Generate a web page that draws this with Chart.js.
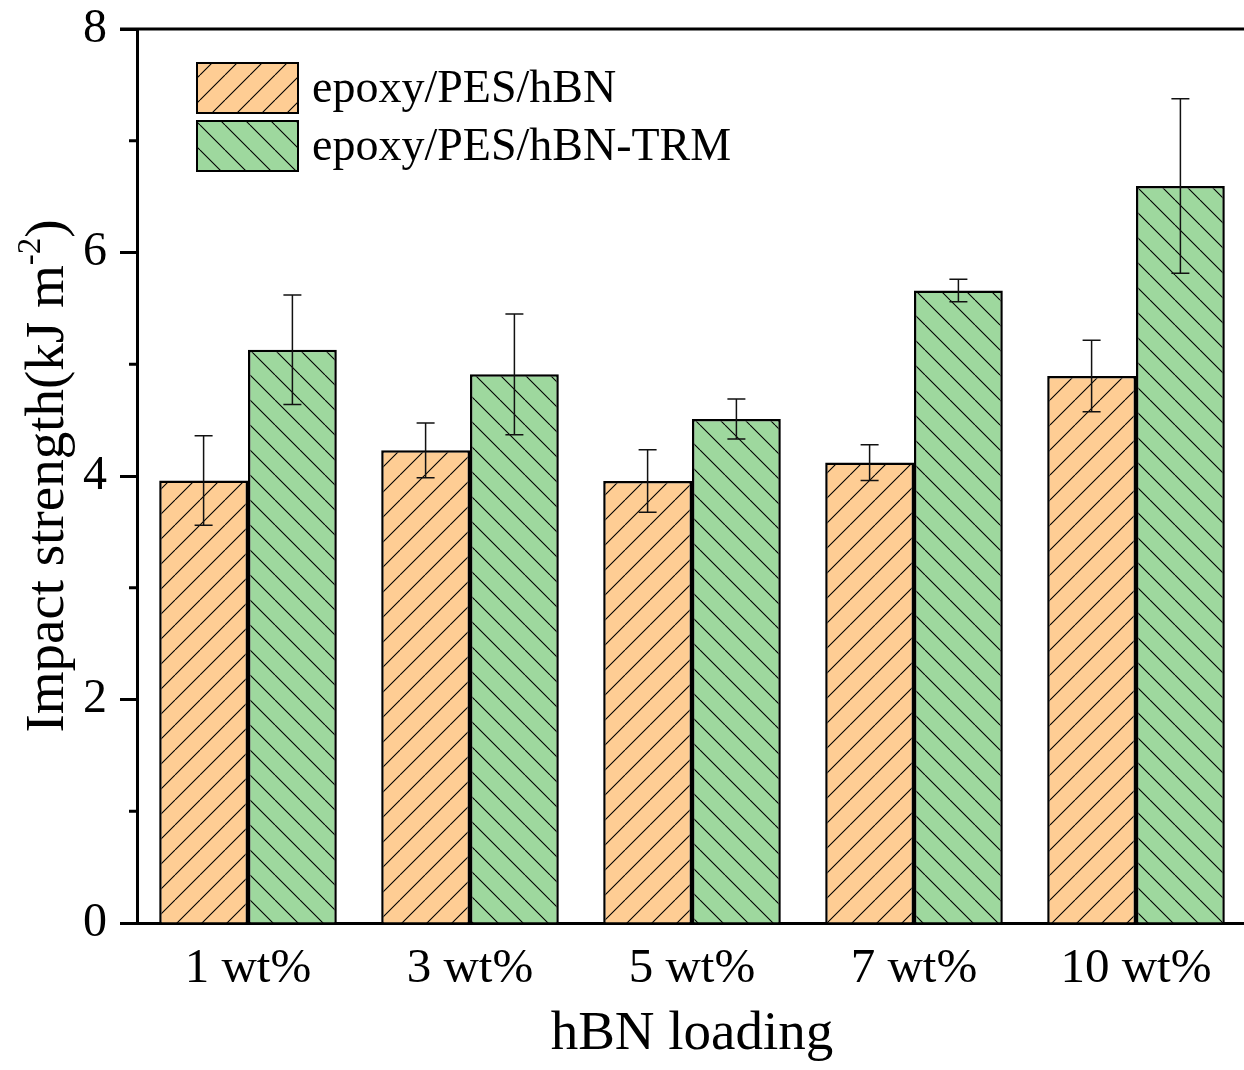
<!DOCTYPE html>
<html>
<head>
<meta charset="utf-8">
<style>
  html, body { margin: 0; padding: 0; background: #fff; overflow: hidden; }
  #wrap { width: 1247px; height: 1070px; }
</style>
<script src="https://cdn.jsdelivr.net/npm/chart.js@4/dist/chart.umd.min.js"></script>
</head>
<body>
<div id="wrap"><canvas id="impactChart" width="1247" height="1070"></canvas></div>
<script>
const loadings = ['1 wt%', '3 wt%', '5 wt%', '7 wt%', '10 wt%'];
const hbnValues = [3.96, 4.23, 3.955, 4.12, 4.895];
const hbnErrors = [0.40, 0.245, 0.28, 0.16, 0.32];
const trmValues = [5.13, 4.91, 4.51, 5.66, 6.595];
const trmErrors = [0.49, 0.54, 0.18, 0.10, 0.78];
const seriesNames = ['epoxy/PES/hBN', 'epoxy/PES/hBN-TRM'];
const minorTicks = [1, 3, 5, 7];

const FONT = "'Liberation Serif', 'Times New Roman', serif";
const orange = 'rgb(254, 205, 148)';
const green = 'rgb(158, 216, 158)';

// hatch fill: "/" for one series, "\" for the other
function hatch(color, forward) {
    const size = 25;
    const c = document.createElement('canvas');
    c.width = size;
    c.height = size;
    const g = c.getContext('2d');
    g.fillStyle = color;
    g.fillRect(0, 0, size, size);
    g.strokeStyle = '#000';
    g.lineWidth = 1.1;
    g.beginPath();
    for (const k of [-size, 0, size]) {
        if (forward) {
            g.moveTo(k, size);
            g.lineTo(k + size, 0);
        } else {
            g.moveTo(k, 0);
            g.lineTo(k + size, size);
        }
    }
    g.stroke();
    return g.createPattern(c, 'repeat');
}

const ctx = document.getElementById('impactChart').getContext('2d');
const hbnFill = hatch(orange, true);
const trmFill = hatch(green, false);

const errorBars = {
    id: 'errorBars',
    afterDatasetsDraw(chart) {
        const c = chart.ctx;
        const y = chart.scales.y;
        const errs = [hbnErrors, trmErrors];
        c.save();
        c.strokeStyle = '#111';
        c.lineWidth = 1.5;
        chart.data.datasets.forEach((ds, i) => {
            chart.getDatasetMeta(i).data.forEach((bar, j) => {
                const v = ds.data[j];
                const top = y.getPixelForValue(v + errs[i][j]);
                const bot = y.getPixelForValue(v - errs[i][j]);
                c.beginPath();
                c.moveTo(bar.x, top);
                c.lineTo(bar.x, bot);
                c.moveTo(bar.x - 9, top);
                c.lineTo(bar.x + 9, top);
                c.moveTo(bar.x - 9, bot);
                c.lineTo(bar.x + 9, bot);
                c.stroke();
            });
        });
        c.restore();
    }
};

const frame = {
    id: 'frame',
    afterDraw(chart) {
        const c = chart.ctx;
        const area = chart.chartArea;
        const y = chart.scales.y;
        c.save();
        c.strokeStyle = '#000';
        c.lineWidth = 3;
        // top border
        c.beginPath();
        c.moveTo(area.left - 17, area.top);
        c.lineTo(chart.width, area.top);
        c.stroke();
        // minor ticks
        minorTicks.forEach(v => {
            const py = y.getPixelForValue(v);
            c.beginPath();
            c.moveTo(area.left - 8, py);
            c.lineTo(area.left, py);
            c.stroke();
        });

        // legend
        const fills = [hbnFill, trmFill];
        c.font = '46px ' + FONT;
        c.textBaseline = 'middle';
        c.lineWidth = 2;
        seriesNames.forEach((name, i) => {
            const by = 63 + i * 58;
            c.fillStyle = fills[i];
            c.fillRect(197, by, 101, 50);
            c.strokeRect(197, by, 101, 50);
            c.fillStyle = '#000';
            c.fillText(name, 312, by + 27);
        });

        // y axis title with superscript
        const main = 'Impact strength(kJ m';
        const sup = '-2';
        const close = ')';
        c.translate(63, 476);
        c.rotate(-Math.PI / 2);
        c.textBaseline = 'alphabetic';
        c.font = '55px ' + FONT;
        const w1 = c.measureText(main).width;
        const w3 = c.measureText(close).width;
        c.font = '33px ' + FONT;
        const w2 = c.measureText(sup).width;
        let x = -(w1 + w2 + w3) / 2;
        c.font = '55px ' + FONT;
        c.fillText(main, x, 0);
        x += w1;
        c.font = '33px ' + FONT;
        c.fillText(sup, x, -23);
        x += w2;
        c.font = '55px ' + FONT;
        c.fillText(close, x, 0);
        c.restore();
    }
};

new Chart(ctx, {
    type: 'bar',
    data: {
        labels: loadings,
        datasets: [
            {
                label: seriesNames[0],
                data: hbnValues,
                backgroundColor: hbnFill,
                borderColor: '#000',
                borderWidth: 2.5
            },
            {
                label: seriesNames[1],
                data: trmValues,
                backgroundColor: trmFill,
                borderColor: '#000',
                borderWidth: 2.5
            }
        ]
    },
    options: {
        responsive: false,
        animation: false,
        devicePixelRatio: 1,
        layout: { padding: { left: 0, top: 29, right: 0, bottom: 0 } },
        datasets: { bar: { barPercentage: 1, categoryPercentage: 0.8 } },
        plugins: {
            legend: { display: false },
            tooltip: { enabled: false }
        },
        scales: {
            x: {
                afterFit(scale) {
                    scale.height = 147;
                    scale.paddingLeft = 0;
                    scale.paddingRight = 0;
                },
                grid: { display: false, drawTicks: false },
                border: { display: true, color: '#000', width: 3 },
                ticks: { color: '#000', padding: 17, font: { family: FONT, size: 49 } },
                title: {
                    display: true,
                    text: 'hBN loading',
                    color: '#000',
                    font: { family: FONT, size: 55 },
                    padding: { top: 0, bottom: 2 }
                }
            },
            y: {
                min: 0,
                max: 8,
                afterFit(scale) {
                    scale.width = 137;
                    scale.paddingTop = 0;
                    scale.paddingBottom = 0;
                },
                grid: {
                    display: true,
                    drawOnChartArea: false,
                    drawTicks: true,
                    tickLength: 17,
                    tickWidth: 3,
                    tickColor: '#000'
                },
                border: { display: true, color: '#000', width: 3 },
                ticks: {
                    stepSize: 2,
                    color: '#000',
                    padding: 13,
                    font: { family: FONT, size: 48 }
                }
            }
        }
    },
    plugins: [errorBars, frame]
});
</script>
</body>
</html>
